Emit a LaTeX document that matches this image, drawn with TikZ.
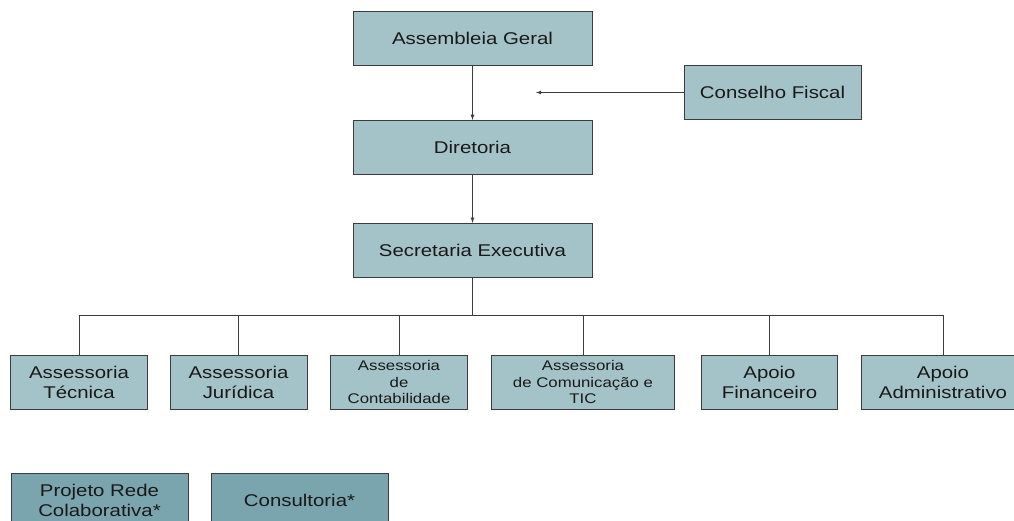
\documentclass[tikz,border=0pt]{standalone}
\usepackage{fontspec}
\setmainfont{Liberation Sans}[FakeStretch=1.2]
\usetikzlibrary{positioning}

\definecolor{boxfill}{HTML}{A4C3C8}
\definecolor{boxdark}{HTML}{7AA5AE}
\definecolor{boxline}{HTML}{3C3C3C}

\begin{document}
\begin{tikzpicture}[
	x=1pt, y=-1pt,
	% Set the default distance between nodes.
	node distance=54pt and 23pt
	]
	% Define custom styles to make the code cleaner and more reusable.
	\tikzset{
		box/.style={draw=boxline, fill=boxfill, rectangle, line width=0.9pt, minimum height=54pt, inner sep=2pt, align=center, text=black!90, font=\fontsize{17}{20}\selectfont},
		smallbox/.style={box, font=\fontsize{14}{16.5}\selectfont},
		darkbox/.style={box, fill=boxdark},
		line/.style={-latex, line width=0.8pt, draw=boxline},
		link/.style={line width=0.8pt, draw=boxline}
	}
	
	% page frame, lower boxes are cut at the border
	\useasboundingbox (0,0) rectangle (1014,521);
	\fill[white] (0,0) rectangle (1014,521);
	\clip (0,0) rectangle (1014,521);
	
	% === NODES ===
	
	\node[box, minimum width=239pt] (assembleia) at (472.5,38.5) {Assembleia Geral};
	\node[box, minimum width=239pt, below=of assembleia] (diretoria) {Diretoria};
	\node[box, minimum width=239pt, below=48pt of diretoria] (secretaria) {Secretaria Executiva};
	\node[box, minimum width=177pt] (conselho) at (772.5,92.5) {Conselho Fiscal};
	\coordinate (fiscal) at (536,92.5);
	
	\node[box, minimum width=137pt] (tecnica) at (79,382) {Assessoria\\Técnica};
	\node[box, minimum width=137pt] (juridica) at (238.5,382) {Assessoria\\Jurídica};
	\node[smallbox, minimum width=137pt] (contabilidade) at (399,382) {Assessoria\\de\\Contabilidade};
	\node[smallbox, minimum width=183pt] (comunicacao) at (583,382) {Assessoria\\de Comunicação e\\TIC};
	\node[box, minimum width=136pt] (financeiro) at (769.5,382) {Apoio\\Financeiro};
	\node[box, minimum width=164pt] (administrativo) at (943,382) {Apoio\\Administrativo};
	\coordinate (bus) at (472.5,315);
	
	\node[darkbox, minimum width=177pt] (projeto) at (99.5,500) {Projeto Rede\\Colaborativa*};
	\node[darkbox, minimum width=177pt] (consultoria) at (299.5,500) {Consultoria*};
	
	% === CONNECTIONS ===
	
	\draw[line] (assembleia) -- (diretoria);
	\draw[line] (diretoria) -- (secretaria);
	\draw[line] (conselho) -- (fiscal);
	
	\draw[link] (secretaria) -- (bus);
	\draw[link] (tecnica.north) |- (bus);
	\draw[link] (juridica.north) |- (bus);
	\draw[link] (contabilidade.north) |- (bus);
	\draw[link] (comunicacao.north) |- (bus);
	\draw[link] (financeiro.north) |- (bus);
	\draw[link] (administrativo.north) |- (bus);
\end{tikzpicture}
\end{document}
